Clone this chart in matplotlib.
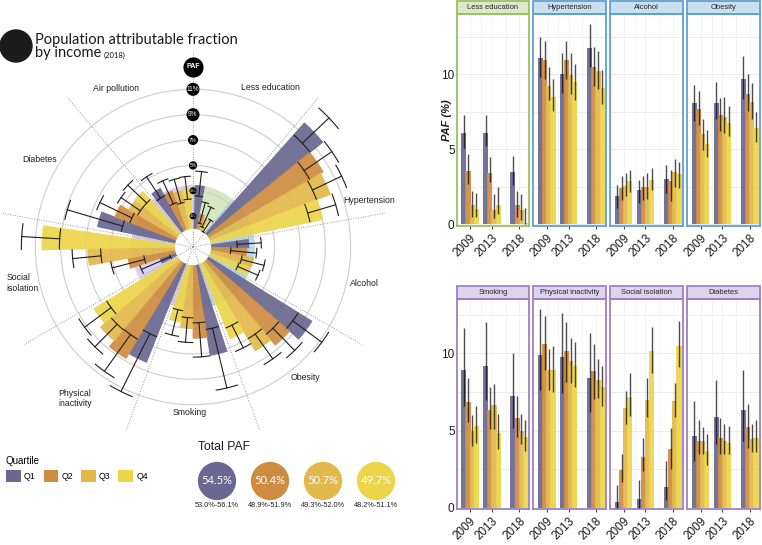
import numpy as np
import matplotlib
matplotlib.use('Agg')
import matplotlib.pyplot as plt
from matplotlib.patches import Rectangle, Circle, Patch

plt.rcParams['font.family'] = ['Liberation Sans', 'DejaVu Sans']

W, H = 762, 545

# ── data ──────────────────────────────────────────────────────────────────────
quartiles = ['Q1', 'Q2', 'Q3', 'Q4']
years = [2009, 2013, 2018]
q_colors = ['#6a6790', '#cd8c40', '#e3b84b', '#ecd54b']

# PAF (%) per survey year (rows) x income quartile (cols), with 95% CI
less_edu    = [[6.10, 3.55, 1.30, 1.00], [6.10, 3.40, 0.95, 1.30], [3.45, 1.25, 0.95, 0.10]]
less_edu_lo = [[5.10, 2.70, 0.50, 0.50], [5.20, 2.80, 0.40, 0.70], [2.60, 0.50, 0.30, 0.00]]
less_edu_hi = [[7.30, 4.70, 2.20, 2.05], [7.25, 4.50, 2.00, 2.50], [4.55, 2.20, 2.00, 1.10]]

hypert    = [[11.05, 10.95, 9.20, 8.50], [10.00, 10.95, 9.95, 9.45], [11.75, 10.45, 10.20, 9.05]]
hypert_lo = [[9.80, 9.65, 8.30, 7.55], [8.75, 9.65, 8.65, 8.30], [10.45, 9.20, 9.00, 8.00]]
hypert_hi = [[12.50, 12.25, 10.45, 9.65], [11.40, 12.25, 11.40, 10.65], [13.35, 11.85, 11.55, 10.30]]

alcohol    = [[1.90, 2.40, 2.55, 2.90], [2.25, 2.45, 2.50, 2.95], [3.00, 2.85, 3.45, 3.35]]
alcohol_lo = [[1.05, 1.60, 1.85, 2.15], [1.40, 1.60, 1.70, 2.25], [2.05, 1.55, 2.50, 2.40]]
alcohol_hi = [[2.60, 3.20, 3.40, 3.60], [2.95, 3.20, 3.40, 3.75], [3.95, 3.60, 4.35, 4.15]]

obesity    = [[8.05, 7.70, 6.00, 5.35], [8.10, 7.25, 7.15, 6.75], [9.65, 8.70, 8.15, 6.40]]
obesity_lo = [[6.85, 6.60, 4.95, 4.50], [7.00, 6.20, 6.10, 5.85], [8.35, 7.55, 7.00, 5.45]]
obesity_hi = [[9.30, 8.90, 7.00, 6.30], [9.45, 8.40, 8.50, 7.85], [11.20, 10.00, 9.40, 7.45]]

smoking    = [[8.90, 6.85, 4.95, 5.30], [9.20, 6.30, 6.65, 4.85], [7.25, 5.80, 5.00, 4.60]]
smoking_lo = [[6.60, 5.55, 4.00, 4.20], [6.95, 5.10, 5.10, 3.80], [5.15, 4.55, 4.15, 3.65]]
smoking_hi = [[11.65, 8.40, 6.00, 6.60], [12.00, 7.80, 8.00, 6.05], [10.00, 7.25, 6.10, 5.70]]

phys_inact    = [[9.90, 10.60, 8.90, 8.90], [9.75, 10.15, 9.50, 9.15], [8.40, 8.85, 8.25, 7.80]]
phys_inact_lo = [[7.60, 8.90, 7.65, 7.50], [7.40, 8.15, 8.10, 7.80], [6.20, 7.05, 7.10, 6.60]]
phys_inact_hi = [[12.85, 12.40, 10.25, 10.50], [12.60, 12.00, 11.00, 10.75], [11.30, 10.60, 9.60, 9.20]]

soc_isol    = [[0.35, 2.45, 6.45, 7.20], [0.55, 3.30, 7.00, 10.15], [1.35, 3.80, 6.90, 10.50]]
soc_isol_lo = [[0.00, 1.65, 5.45, 5.95], [0.00, 2.40, 5.85, 8.75], [0.50, 2.50, 5.85, 9.10]]
soc_isol_hi = [[1.45, 3.50, 7.55, 8.70], [1.80, 4.50, 8.40, 11.70], [3.00, 5.15, 8.10, 12.10]]

diabetes    = [[4.65, 4.35, 4.30, 3.65], [5.85, 4.50, 4.30, 4.20], [6.30, 5.20, 4.45, 4.50]]
diabetes_lo = [[3.05, 3.50, 3.50, 2.75], [4.10, 3.50, 3.45, 3.45], [4.35, 3.90, 3.60, 3.60]]
diabetes_hi = [[6.90, 5.65, 5.25, 4.80], [8.25, 5.80, 5.45, 5.30], [8.90, 6.70, 5.45, 5.65]]

# air pollution: 2018 only (shown in the radial chart)
air_2018    = [3.90, 3.30, 3.10, 3.20]
air_2018_lo = [3.20, 2.30, 2.15, 2.35]
air_2018_hi = [5.20, 4.30, 4.10, 4.15]

panel_names = ['Less education', 'Hypertension', 'Alcohol', 'Obesity',
               'Smoking', 'Physical inactivity', 'Social isolation', 'Diabetes']
panel_vals = [less_edu, hypert, alcohol, obesity, smoking, phys_inact, soc_isol, diabetes]
panel_lo = [less_edu_lo, hypert_lo, alcohol_lo, obesity_lo, smoking_lo, phys_inact_lo, soc_isol_lo, diabetes_lo]
panel_hi = [less_edu_hi, hypert_hi, alcohol_hi, obesity_hi, smoking_hi, phys_inact_hi, soc_isol_hi, diabetes_hi]
panel_stage = ['early', 'mid', 'mid', 'mid', 'late', 'late', 'late', 'late']

polar_names = ['Less education', 'Hypertension', 'Alcohol', 'Obesity', 'Smoking',
               'Physical\ninactivity', 'Social\nisolation', 'Diabetes', 'Air pollution']
polar_stage = ['early', 'mid', 'mid', 'mid', 'late', 'late', 'late', 'late', 'late']

total_paf    = [54.5, 50.4, 50.7, 49.7]
total_paf_lo = [53.0, 48.9, 49.3, 48.2]
total_paf_hi = [56.1, 51.9, 52.0, 51.1]

ring_levels = [1, 3, 5, 7, 9, 11]

# ── styling ───────────────────────────────────────────────────────────────────
stage_edge  = {'early': '#98c262', 'mid': '#5f9fd4', 'late': '#9e80c4'}
stage_strip = {'early': '#dee9cb', 'mid': '#c8e0f0', 'late': '#ded3ec'}
stage_wedge = {'early': '#d6e7c4', 'mid': '#b9dcec', 'late': '#dbd1ea'}


def frac(x0, y0, x1, y1):
    """pixel box (top-left origin) -> figure fraction rect"""
    return [x0 / W, 1 - y1 / H, (x1 - x0) / W, (y1 - y0) / H]


fig = plt.figure(figsize=(W / 100, H / 100), dpi=100)

# ── title ─────────────────────────────────────────────────────────────────────
deco = fig.add_axes([0, 0, 1, 1])
deco.set_xlim(0, W); deco.set_ylim(H, 0); deco.axis('off')
deco.add_patch(Circle((16, 46), 16, color='#1c1c1c'))
fig.text(35 / W, 1 - 44 / H, 'Population attributable fraction', fontsize=10.5,
         family='Lato', va='baseline', color='#1a1a1a')
fig.text(35 / W, 1 - 57.5 / H, 'by income', fontsize=10.5, family='Lato',
         va='baseline', color='#1a1a1a')
fig.text(104 / W, 1 - 57.5 / H, '(2018)', fontsize=5.5, family='Lato',
         va='baseline', color='#1a1a1a')

# ── radial chart (2018) ───────────────────────────────────────────────────────
PPU = 12.68          # pixels per PAF percentage point
HOLE = 1.435         # empty centre, in PAF units
RMAX = 13.5
cx, cy = 193, 247
R = (RMAX + HOLE) * PPU
axp = fig.add_axes(frac(cx - R, cy - R, cx + R, cy + R), projection='polar')
axp.set_theta_zero_location('N')
axp.set_theta_direction(-1)
axp.set_ylim(-HOLE, RMAX)
axp.axis('off')

sector = 40
nsec = len(polar_names)
sec_centers = np.deg2rad(np.arange(nsec) * sector + sector / 2)
axp.bar(sec_centers, 3.45, width=np.deg2rad(sector), bottom=0,
        color=[stage_wedge[s] for s in polar_stage], lw=0, zorder=1)

tt = np.linspace(0, 2 * np.pi, 400)
for v in ring_levels:
    axp.plot(tt, np.full_like(tt, v), color='#cdcdcd', lw=0.8, zorder=1.2)

for k in range(nsec):
    th = np.deg2rad(k * sector)
    axp.plot([th, th], [-HOLE, 13.94], color='#9a9a9a', lw=0.7, ls=(0, (1, 1.5)),
             zorder=1.5, clip_on=False)

polar_vals = [pv[2] for pv in panel_vals] + [air_2018]
polar_lo = [pl[2] for pl in panel_lo] + [air_2018_lo]
polar_hi = [ph[2] for ph in panel_hi] + [air_2018_hi]
step, bw = 9.0, 9.5
cap = np.deg2rad(4.3)
for q in range(4):
    th = np.deg2rad(np.arange(nsec) * sector + 6.5 + step * q)
    vals = [pv[q] for pv in polar_vals]
    axp.bar(th, vals, width=np.deg2rad(bw), bottom=0, color=q_colors[q],
            alpha=0.92, lw=0, zorder=2 + q * 0.1)
    for t, lo, hi in zip(th, [pl[q] for pl in polar_lo], [ph[q] for ph in polar_hi]):
        axp.plot([t, t], [lo, hi], color='#1e1e1e', lw=0.8, zorder=4)
        for v in (lo, hi):
            arc = np.linspace(t - cap, t + cap, 6)
            axp.plot(arc, np.full_like(arc, v), color='#1e1e1e', lw=0.8, zorder=4)

# scale badges on the 0° spoke
badge_size = [22, 25, 36, 52, 88, 88]
axp.scatter(np.zeros(len(ring_levels)), ring_levels, s=badge_size, color='black',
            zorder=6, clip_on=False, lw=0)
for v, s in zip(ring_levels, badge_size):
    axp.text(0, v, f'{v}%', color='white', ha='center', va='center',
             fontsize=2.6 + s / 40, zorder=7)
r_paf = 180 / PPU - HOLE
axp.scatter([0], [r_paf], s=210, color='black', zorder=6, clip_on=False, lw=0)
axp.text(0, r_paf, 'PAF', color='white', ha='center', va='center', fontsize=5,
         fontweight='bold', zorder=7)

label_ang = [25.8, 75.3, 101.9, 139.3, 181, 218, 258, 299.7, 334]
label_rpx = [177, 182, 175, 172, 166, 192, 174, 177, 176]
for name, a, rp in zip(polar_names, label_ang, label_rpx):
    axp.text(np.deg2rad(a), rp / PPU - HOLE, name, ha='center', va='center',
             ma='left', fontsize=6.3, color='#222222')

# ── quartile legend ───────────────────────────────────────────────────────────
handles = [Patch(facecolor=c, edgecolor='none') for c in q_colors]
leg = fig.legend(handles, quartiles, ncol=4, title='Quartile', alignment='left',
                 frameon=False, loc='upper left', bbox_to_anchor=(6 / W, 1 - 456 / H),
                 fontsize=6.3, title_fontsize=7, handlelength=1.7, handleheight=1.7,
                 handletextpad=0.35, columnspacing=0.9, borderpad=0, borderaxespad=0)

# ── total PAF bubbles ─────────────────────────────────────────────────────────
fig.text(198 / W, 1 - 447 / H, 'Total PAF', fontsize=8.8, va='center', color='#1a1a1a')
axt = fig.add_axes(frac(190.5, 460, 402.5, 502))
axt.set_xlim(-0.5, 3.5); axt.set_ylim(-1, 1); axt.axis('off')
xs = np.arange(len(total_paf))
axt.scatter(xs, np.zeros(len(xs)), s=760, c=q_colors, lw=0)
for x, v, lo, hi in zip(xs, total_paf, total_paf_lo, total_paf_hi):
    axt.text(x, 0.02, f'{v:.1f}%', color='white', ha='center', va='center',
             fontsize=8, family='Lato')
    axt.text(x, -1.15, f'{lo:.1f}%-{hi:.1f}%', ha='center', va='center',
             fontsize=5.3, color='#222222')

# ── facet panels (2009 / 2013 / 2018) ─────────────────────────────────────────
panel_x = [(456.7, 529.0), (533.3, 605.7), (610.3, 682.5), (687.3, 759.5)]
row_y = [(14.0, 225.7), (299.3, 509.3)]
strip_px = 13.5
offsets = [-1.15, -0.38, 0.38, 1.15]
row_ymax = [1.05 * max(max(max(r) for r in panel_hi[k]) for k in range(4 * i, 4 * i + 4))
            for i in range(2)]

for k, name in enumerate(panel_names):
    row, col = divmod(k, 4)
    x0, x1 = panel_x[col]
    y0, y1 = row_y[row]
    ax = fig.add_axes(frac(x0, y0, x1, y1))
    vals = np.array(panel_vals[k]); lo = np.array(panel_lo[k]); hi = np.array(panel_hi[k])
    for q in range(4):
        xq = np.array(years) + offsets[q]
        ax.bar(xq, vals[:, q], width=0.95, color=q_colors[q], alpha=0.92, lw=0, zorder=2)
        ax.vlines(xq, lo[:, q], hi[:, q], color='black', alpha=0.7, lw=1.0, zorder=3)
    ax.set_xlim(2006.56, 2019.8)
    ax.set_ylim(-0.1, row_ymax[row])
    ax.set_yticks([0, 5, 10])
    ax.set_yticks([2.5, 7.5, 12.5], minor=True)
    ax.set_xticks(years)
    ax.set_xticks([2011, 2015.5], minor=True)
    ax.grid(True, which='both', axis='y', color='#e9e9e9', lw=0.6, zorder=0)
    ax.grid(True, which='both', axis='x', color='#f3f3f3', lw=0.6, zorder=0)
    ax.set_axisbelow(True)
    ax.set_xticklabels([str(y) for y in years], rotation=45, ha='right',
                       rotation_mode='anchor', fontsize=8.5, color='#1a1a1a')
    ax.tick_params(axis='x', which='major', length=2, pad=2.5, color='#444444')
    ax.tick_params(which='minor', length=0)
    if col == 0:
        ax.tick_params(axis='y', which='major', length=0, pad=1.5, labelsize=8.5,
                       labelcolor='#1a1a1a')
    else:
        ax.tick_params(axis='y', which='major', length=0, labelleft=False)
    ec = stage_edge[panel_stage[k]]
    for sp in ax.spines.values():
        sp.set_color(ec); sp.set_linewidth(1.3)
    sh = strip_px / (y1 - y0)
    ax.add_patch(Rectangle((0, 1), 1, sh, transform=ax.transAxes, clip_on=False,
                           facecolor=stage_strip[panel_stage[k]], edgecolor=ec, lw=1.3))
    ax.text(0.5, 1 + sh / 2, name, transform=ax.transAxes, ha='center', va='center',
            fontsize=5.4, color='#222222')

fig.text(447 / W, 1 - 120 / H, 'PAF (%)', rotation=90, fontweight='bold',
         fontstyle='italic', fontsize=8, ha='center', va='center', color='#1a1a1a')

fig.savefig('out.png', dpi=100)
